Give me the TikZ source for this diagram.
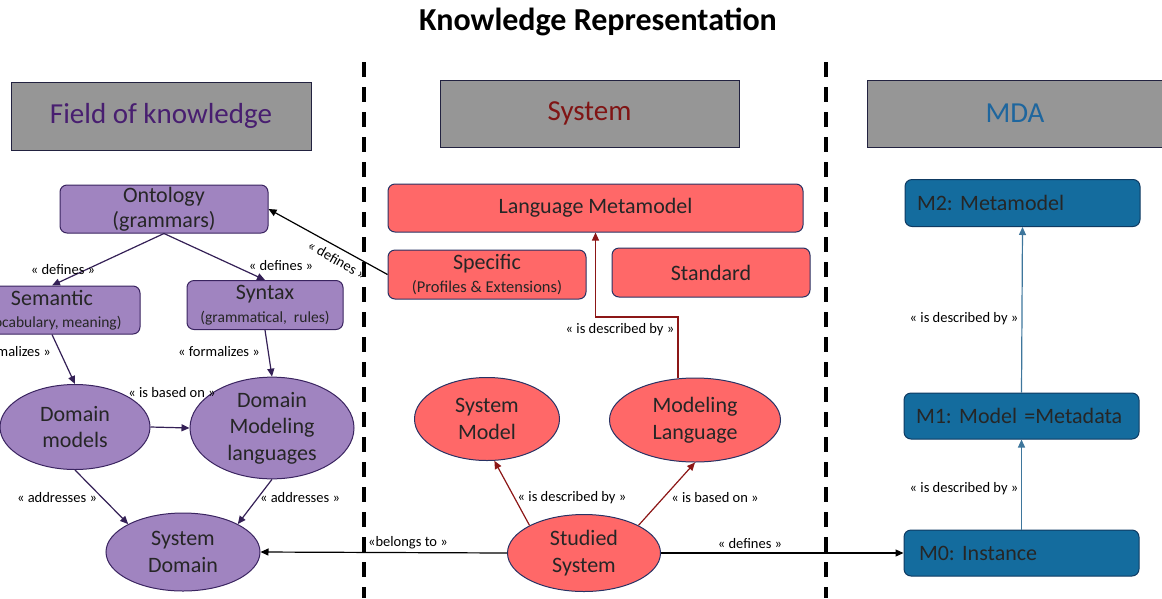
\documentclass[tikz,border=0pt]{standalone}
\usepackage{fontspec}
\setmainfont{Carlito}
\usepackage{tikz}
\usetikzlibrary{shapes.geometric,arrows.meta}
\frenchspacing

\definecolor{fkfill}{RGB}{160,132,192}
\definecolor{fkline}{RGB}{58,36,96}
\definecolor{fktext}{RGB}{72,30,112}
\definecolor{sysfill}{RGB}{255,104,104}
\definecolor{sysline}{RGB}{40,50,100}
\definecolor{systext}{RGB}{128,20,20}
\definecolor{sysarr}{RGB}{140,22,22}
\definecolor{mdafill}{RGB}{20,108,158}
\definecolor{mdaline}{RGB}{14,58,98}
\definecolor{mdatext}{RGB}{30,102,158}
\definecolor{mdaarr}{RGB}{62,118,156}
\definecolor{headfill}{RGB}{150,150,150}
\definecolor{headline}{RGB}{34,34,64}

\newcommand{\boxfont}{\fontsize{22}{26.5}\selectfont}
\newcommand{\subfont}{\fontsize{15.5}{18}\selectfont}
\newcommand{\lblfont}{\fontsize{14.5}{16}\selectfont}

\tikzset{
  header/.style={draw=headline, fill=headfill, line width=0.8pt,
    minimum width=300pt, minimum height=68pt, inner sep=0pt,
    font=\fontsize{29}{33}\selectfont},
  fkbox/.style={draw=fkline, fill=fkfill, line width=1pt, rounded corners=7pt,
    align=center, inner sep=0pt, font=\boxfont, text=black!85},
  fkoval/.style={ellipse, draw=fkline, fill=fkfill, line width=1pt,
    align=center, inner sep=0pt, font=\boxfont, text=black!85},
  sysbox/.style={draw=sysline, fill=sysfill, line width=1pt, rounded corners=7pt,
    align=center, inner sep=0pt, font=\boxfont, text=black!85},
  sysoval/.style={ellipse, draw=sysline, fill=sysfill, line width=1pt,
    align=center, inner sep=0pt, font=\boxfont, text=black!85},
  mdabox/.style={draw=mdaline, fill=mdafill, line width=1pt, rounded corners=7pt,
    text width=211pt, align=left, inner xsep=12pt, inner ysep=0pt,
    minimum width=235pt, minimum height=47pt, font=\boxfont, text=black!85},
  lbl/.style={font=\lblfont, inner sep=1pt},
  fkarrow/.style={draw=fkline!90!black, line width=1.2pt, -{Triangle[length=8pt,width=7pt]}},
  sysarrow/.style={draw=sysarr, line width=1.2pt, -{Triangle[length=8pt,width=7pt]}},
  mdaarrow/.style={draw=mdaarr, line width=1.2pt, -{Triangle[length=8pt,width=7pt]}},
  blackarrow/.style={draw=black, line width=1.2pt, -{Triangle[length=8pt,width=7pt]}},
  divider/.style={line width=3.5pt, dash pattern=on 15pt off 10pt}
}

\begin{document}
\begin{tikzpicture}[x=1pt, y=-1pt]
    \useasboundingbox (0,0) rectangle (1162,598);
    \clip (0,0) rectangle (1162,598);

    % title
    \node[font=\fontsize{32}{36}\selectfont\bfseries](title) at (598,22){Knowledge Representation};

    % dividers
    \draw [divider] (364,62) -- (364,598);
    \draw [divider] (826,62) -- (826,598);

    % column headers
    \node[header, text=fktext](hfield) at (161,116){Field of knowledge};
    \node[header, text=systext, minimum width=299pt, minimum height=67pt](hsys) at (589.5,113.5){System};
    \node[header, text=mdatext, minimum width=296pt, minimum height=67pt](hmda) at (1015,113.5){MDA};

    % field of knowledge
    \node[fkbox, minimum width=208pt, minimum height=48pt](onto) at (164,209)
      {Ontology\\[-2pt](grammars)};
    \node[fkbox, minimum width=176pt, minimum height=48pt](seman) at (52,310)
      {Semantic\\[-4pt]{\subfont(vocabulary, meaning)}};
    \node[fkbox, minimum width=156pt, minimum height=49pt](syntax) at (265,305)
      {Syntax\\[-4pt]{\subfont(grammatical,\ \ rules)}};
    \node[fkoval, minimum width=150pt, minimum height=85pt](dommod) at (75,427)
      {Domain\\models};
    \node[fkoval, minimum width=164pt, minimum height=88pt](domlang) at (272,428)
      {Domain\\Modeling\\languages};
    \node[fkoval, minimum width=154pt, minimum height=78pt](sysdom) at (183,552)
      {System\\Domain};

    \draw [fkarrow] (onto.south) -- (seman.north);
    \node[lbl](ldef1) at (63,270){« defines »};
    \draw [fkarrow] (onto.south) -- (syntax.north);
    \node[lbl](ldef2) at (281,266){« defines »};
    \draw [fkarrow] (seman.south) -- (dommod.north);
    \node[lbl](lform1) at (10,352){« formalizes »};
    \draw [fkarrow] (syntax.south) -- (domlang.north);
    \node[lbl](lform2) at (219,352){« formalizes »};
    \draw [fkarrow] (dommod.east) -- (domlang.west);
    \node[lbl](lbased1) at (172,393){« is based on »};
    \draw [fkarrow] (dommod.south) -- (sysdom.north west);
    \node[lbl](laddr1) at (57,498){« addresses »};
    \draw [fkarrow] (domlang.south) -- (sysdom.north east);
    \node[lbl](laddr2) at (300,498){« addresses »};

    % system
    \node[sysbox, minimum width=415pt, minimum height=48pt](langmeta) at (595.5,208)
      {Language Metamodel};
    \node[sysbox, minimum width=198pt, minimum height=49pt](spec) at (487,274.5)
      {Specific\\[-4pt]{\fontsize{16.5}{19}\selectfont(Profiles \& Extensions)}};
    \node[sysbox, minimum width=198pt, minimum height=49pt](stand) at (711,272.5)
      {Standard};
    \node[sysoval, minimum width=145pt, minimum height=83pt](sysmod) at (487,419)
      {System\\Model};
    \node[sysoval, minimum width=171pt, minimum height=84pt](modlang) at (695,420)
      {Modeling\\Language};
    \node[sysoval, minimum width=153pt, minimum height=77pt](studied) at (584,553)
      {Studied\\System};

    \coordinate (mlbend) at (678,317);
    \draw [sysarrow] (modlang.north -| mlbend) -- (mlbend) -| (langmeta.south);
    \node[lbl](ldesc1) at (620,330){« is described by »};
    \draw [sysarrow] (studied.north west) -- (sysmod.-80);
    \node[lbl](ldesc2) at (572,498){« is described by »};
    \draw [sysarrow] (studied.north east) -- (modlang.south);
    \node[lbl](lbased2) at (715,498){« is based on »};

    % MDA
    \node[mdabox](m2) at (1022.5,203){M2: Metamodel};
    \node[mdabox, minimum height=46pt](m1) at (1021.5,416){M1: Model =Metadata};
    \node[mdabox, minimum height=46pt](m0) at (1021.5,553){\hspace*{3pt}M0: Instance};

    \draw [mdaarrow] (m1.north) -- (m2.south);
    \node[lbl](ldesc3) at (964,319){« is described by »};
    \draw [mdaarrow] (m0.north) -- (m1.south);
    \node[lbl](ldesc4) at (964,489){« is described by »};

    % links across the columns
    \draw [blackarrow] (spec.west) -- (onto.east);
    \node[lbl, rotate=-29.4](ldef3) at (337,260){« defines »};
    \draw [blackarrow] (studied.west) -- (sysdom.east);
    \node[lbl](lbelong) at (408,543){«belongs to »};
    \draw [blackarrow] (studied.east) -- (m0.west);
    \node[lbl](ldef4) at (750,544){« defines »};
\end{tikzpicture}
\end{document}
